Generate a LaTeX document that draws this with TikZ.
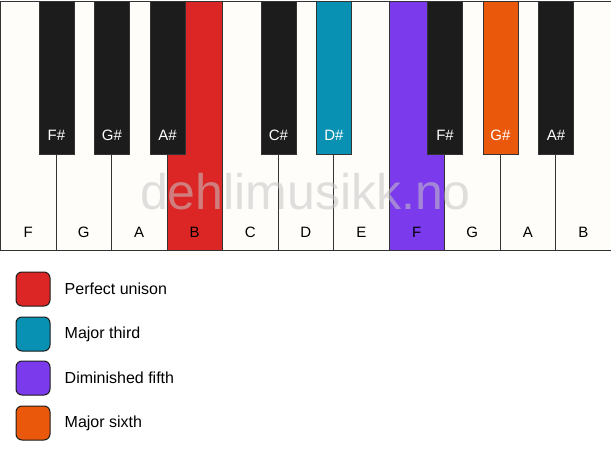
\documentclass[tikz,border=0pt]{standalone}
\usepackage{fontspec}
\setmainfont{Liberation Sans}
\usetikzlibrary{positioning}

\definecolor{keywhite}{HTML}{FFFDF9}
\definecolor{keyblack}{HTML}{1C1C1C}
\definecolor{keyline}{HTML}{333333}
\definecolor{unison}{HTML}{DC2626}
\definecolor{third}{HTML}{0891B2}
\definecolor{fifth}{HTML}{7C3AED}
\definecolor{sixth}{HTML}{EA580C}

\tikzset{
  whitekey/.style={draw=keyline, line width=1pt, fill=keywhite, rectangle,
    minimum width=55.5pt, minimum height=249pt, anchor=north west, inner sep=0pt},
  blackkey/.style={draw=keyline, line width=1pt, fill=keyblack, rectangle,
    minimum width=35pt, minimum height=153pt, anchor=north, inner sep=0pt},
  whitename/.style={font=\fontsize{15}{18}\selectfont, text=black, inner sep=0pt},
  blackname/.style={font=\fontsize{15}{18}\selectfont, text=white, inner sep=0pt},
  swatch/.style={draw=keyblack, line width=1pt, rounded corners=6pt,
    minimum size=34pt, inner sep=0pt},
  legendtext/.style={font=\fontsize{16}{19}\selectfont, anchor=west, inner sep=0pt}
}

\begin{document}
\begin{tikzpicture}[x=1pt, y=-1pt]
        \useasboundingbox (0,0) rectangle (611,461);

        % White keys
        \node[whitekey] (F1) at (0,1) {};
        \node[whitekey] (G1) at (55.5,1) {};
        \node[whitekey] (A1) at (111,1) {};
        \node[whitekey, fill=unison] (B1) at (166.5,1) {};
        \node[whitekey] (C1) at (222,1) {};
        \node[whitekey] (D1) at (277.5,1) {};
        \node[whitekey] (E1) at (333,1) {};
        \node[whitekey, fill=fifth] (F2) at (388.5,1) {};
        \node[whitekey] (G2) at (444,1) {};
        \node[whitekey] (A2) at (499.5,1) {};
        \node[whitekey] (B2) at (555,1) {};

        % Watermark
        \node[font=\fontsize{50}{54}\selectfont, text=gray!45, opacity=0.55] (mark) at (305.5,192) {dehlimusikk.no};

        % White key names
        \node[whitename] at ([yshift=19pt]F1.south) {F};
        \node[whitename] at ([yshift=19pt]G1.south) {G};
        \node[whitename] at ([yshift=19pt]A1.south) {A};
        \node[whitename] at ([yshift=19pt]B1.south) {B};
        \node[whitename] at ([yshift=19pt]C1.south) {C};
        \node[whitename] at ([yshift=19pt]D1.south) {D};
        \node[whitename] at ([yshift=19pt]E1.south) {E};
        \node[whitename] at ([yshift=19pt]F2.south) {F};
        \node[whitename] at ([yshift=19pt]G2.south) {G};
        \node[whitename] at ([yshift=19pt]A2.south) {A};
        \node[whitename] at ([yshift=19pt]B2.south) {B};

        % Black keys
        \node[blackkey] (Fs1) at (F1.north east) {};
        \node[blackkey] (Gs1) at (G1.north east) {};
        \node[blackkey] (As1) at (A1.north east) {};
        \node[blackkey] (Cs1) at (C1.north east) {};
        \node[blackkey, fill=third] (Ds1) at (D1.north east) {};
        \node[blackkey] (Fs2) at (F2.north east) {};
        \node[blackkey, fill=sixth] (Gs2) at (G2.north east) {};
        \node[blackkey] (As2) at (A2.north east) {};

        % Black key names
        \node[blackname] at ([yshift=20pt]Fs1.south) {F\#};
        \node[blackname] at ([yshift=20pt]Gs1.south) {G\#};
        \node[blackname] at ([yshift=20pt]As1.south) {A\#};
        \node[blackname] at ([yshift=20pt]Cs1.south) {C\#};
        \node[blackname] at ([yshift=20pt]Ds1.south) {D\#};
        \node[blackname] at ([yshift=20pt]Fs2.south) {F\#};
        \node[blackname] at ([yshift=20pt]Gs2.south) {G\#};
        \node[blackname] at ([yshift=20pt]As2.south) {A\#};

        % Legend
        \node[swatch, fill=unison] (unisonbox) at (33,289) {};
        \node[swatch, fill=third] (thirdbox) at (33,334) {};
        \node[swatch, fill=fifth] (fifthbox) at (33,378) {};
        \node[swatch, fill=sixth] (sixthbox) at (33,423) {};
        \node[legendtext, right=14pt of unisonbox] (unisontext) {Perfect unison};
        \node[legendtext, right=14pt of thirdbox] (thirdtext) {Major third};
        \node[legendtext, right=14pt of fifthbox] (fifthtext) {Diminished fifth};
        \node[legendtext, right=14pt of sixthbox] (sixthtext) {Major sixth};
    \end{tikzpicture}
\end{document}
